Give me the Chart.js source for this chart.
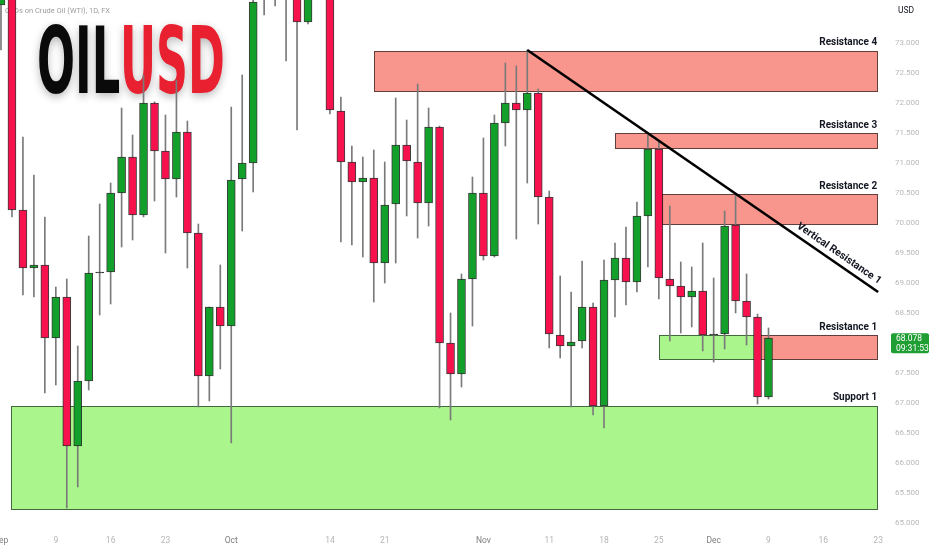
<!DOCTYPE html>
<html><head><meta charset="utf-8">
<script src="https://cdn.jsdelivr.net/npm/chart.js@4"></script>
<style>html,body{margin:0;padding:0;background:#fff;overflow:hidden}canvas{display:block}</style>
</head><body>
<canvas id="c" width="932" height="550"></canvas>
<script>
// ---- Data (daily candles, trading-day index 0 = Sep 2) ----
const opens  = [73.633,74.2,70.217,69.25,69.3,68.083,68.767,66.283,67.367,69.167,69.183,70.5,71.1,70.133,72.0,71.2,70.733,71.517,69.833,67.45,68.6,68.283,70.733,71.0,73.73,74.2,76.0,75.0,73.35,75.8,75.0,71.867,71.017,70.683,70.75,69.333,70.317,71.3,71.017,70.333,71.6,68.0,67.483,69.067,70.5,69.45,71.667,72.0,71.883,72.167,70.433,68.133,67.95,68.033,68.6,66.95,69.05,69.417,69.017,70.117,71.233,69.067,68.95,68.767,68.867,68.133,68.15,69.967,68.7,68.433,67.1];
const highs  = [74.5,74.35,71.433,70.8,70.1,68.933,69.067,67.95,69.783,70.317,70.667,71.917,71.467,72.467,72.02,71.8,72.383,71.7,69.983,68.6,69.3,71.933,72.467,74.0,74.6,75.0,76.5,75.3,76.0,76.2,75.3,72.1,71.283,71.1,71.217,71.017,72.083,71.717,72.317,71.917,71.617,68.5,69.15,70.767,71.417,71.8,72.667,72.617,72.883,72.233,70.533,69.117,68.85,69.367,68.667,69.383,69.667,69.933,70.35,71.467,71.35,70.283,69.35,69.267,69.667,69.083,70.2,70.467,69.15,68.483,68.25];
const lows   = [72.883,70.1,68.8,68.767,67.167,67.3,65.25,65.6,67.217,68.467,68.65,69.6,69.717,70.1,70.367,69.5,70.433,69.25,66.933,67.033,67.567,66.333,69.867,70.517,73.467,73.617,72.7,71.55,73.317,74.8,71.817,69.683,69.633,69.433,68.683,69.0,69.333,70.117,69.75,69.95,66.917,66.717,67.267,68.283,69.383,69.433,71.283,69.733,70.667,69.983,67.917,67.75,66.933,67.917,66.8,66.583,68.433,68.633,68.85,69.267,68.733,68.033,68.167,68.267,67.867,67.683,67.9,68.5,67.967,66.983,67.067];
const closes = [74.3,70.217,69.25,69.3,68.083,68.767,66.283,67.367,69.167,69.183,70.5,71.1,70.133,72.0,71.2,70.733,71.517,69.833,67.45,68.6,68.283,70.717,71.0,73.683,73.75,74.8,74.5,73.35,75.8,75.6,71.883,71.017,70.683,70.75,69.333,70.3,71.3,71.033,70.333,71.6,68.0,67.483,69.067,70.5,69.45,71.667,72.0,71.883,72.167,70.433,68.15,67.95,68.017,68.6,66.95,69.05,69.417,69.017,70.117,71.233,69.083,68.95,68.767,68.867,68.133,68.15,69.95,68.7,68.433,67.1,68.083];

const yTickValues = [65,65.5,66,66.5,67,67.5,68,68.5,69,69.5,70,70.5,71,71.5,72,72.5,73];
const xTickIndex  = [0,5,10,15,21,30,35,44,50,55,60,65,70,75,80];
const xTickLabels = ['Sep','9','16','23','Oct','14','21','Nov','11','18','25','Dec','9','16','23'];
const monthLabels = ['Sep','Oct','Nov','Dec'];

const zoneNames = ['Resistance 4','Resistance 3','Resistance 2','','Resistance 1','Support 1'];
const zoneKinds = ['res','res','res','sup','res','sup'];
const zoneStart = [34,56,60.3,60,69,0.95];
const zoneEnd   = [80,80,80,69,80,80];
const zoneHigh  = [72.867,71.5,70.483,68.133,68.133,66.95];
const zoneLow   = [72.183,71.233,69.967,67.717,67.717,65.217];

const trendX = [48,80];
const trendY = [72.883,68.85];
const trendLabel = 'Vertical Resistance 1';

const titleText = 'CFDs on Crude Oil (WTI), 1D, FX';
const logoDark = 'OIL', logoRed = 'USD';
const currency = 'USD';
const lastPrice = 68.078, lastPriceText = '68.078', lastTimeText = '09:31:53';

// ---- Styles ----
const GREEN = '#12a02a', RED = '#f7124e', DOJI = '#222';
const bodyColors = opens.map((o,i)=> Math.abs(closes[i]-o) < 0.03 ? DOJI : (closes[i] >= o ? GREEN : RED));

function drawFit(ctx, text, color, x0, x1, y0, y1){
  ctx.save();
  ctx.font = 'bold 100px "Liberation Sans Narrow", "DejaVu Sans Condensed", "Roboto Condensed", sans-serif';
  ctx.textBaseline = 'alphabetic'; ctx.textAlign = 'left';
  const m = ctx.measureText(text);
  const w = m.actualBoundingBoxLeft + m.actualBoundingBoxRight;
  const h = m.actualBoundingBoxAscent;
  const sx = (x1-x0)/w, sy = (y1-y0)/h;
  ctx.translate(x0 + m.actualBoundingBoxLeft*sx, y1);
  ctx.scale(sx, sy);
  ctx.shadowColor = 'rgba(0,0,0,0.28)'; ctx.shadowBlur = 9; ctx.shadowOffsetY = 3;
  ctx.fillStyle = color;
  ctx.fillText(text, 0, 0);
  ctx.restore();
}

const overlay = {
  id: 'overlay',
  beforeDatasetsDraw(chart){
    const {ctx, scales:{x, y}} = chart;
    ctx.save();
    ctx.font = '7.5px Roboto, sans-serif'; ctx.fillStyle = '#9c9c9c';
    ctx.textBaseline = 'middle'; ctx.textAlign = 'left';
    ctx.fillText(titleText, 5, 11);
    drawFit(ctx, logoDark, '#0a0a0a', 39, 119, 23, 93);
    drawFit(ctx, logoRed, '#e8202f', 124, 223, 23, 93);
    for (let i=0;i<zoneNames.length;i++){
      const px0 = Math.round(x.getPixelForValue(zoneStart[i]));
      const px1 = Math.round(x.getPixelForValue(zoneEnd[i]));
      const py0 = Math.round(y.getPixelForValue(zoneHigh[i]));
      const py1 = Math.round(y.getPixelForValue(zoneLow[i]));
      ctx.fillStyle = zoneKinds[i]==='res' ? '#f8968d' : '#aaf58c';
      ctx.fillRect(px0, py0, px1-px0, py1-py0);
      ctx.strokeStyle = zoneKinds[i]==='res' ? 'rgba(60,40,40,0.8)' : 'rgba(40,70,40,0.8)';
      ctx.lineWidth = 1;
      ctx.strokeRect(px0+0.5, py0+0.5, px1-px0-1, py1-py0-1);
    }
    ctx.restore();
  },
  afterDatasetsDraw(chart){
    const {ctx, scales:{x, y}} = chart;
    ctx.save();
    ctx.fillStyle = '#131722';
    ctx.font = 'bold 10px Roboto, sans-serif';
    ctx.textAlign = 'right'; ctx.textBaseline = 'middle';
    for (let i=0;i<zoneNames.length;i++){
      if (!zoneNames[i]) continue;
      const px1 = x.getPixelForValue(zoneEnd[i]);
      const py0 = y.getPixelForValue(zoneHigh[i]);
      ctx.fillText(zoneNames[i], px1-1, py0-8);
    }
    // trend label
    const p0x = x.getPixelForValue(trendX[0]), p0y = y.getPixelForValue(trendY[0]);
    const p1x = x.getPixelForValue(trendX[1]), p1y = y.getPixelForValue(trendY[1]);
    const th = Math.atan2(p1y-p0y, p1x-p0x);
    ctx.save();
    ctx.translate(p1x, p1y); ctx.rotate(th);
    ctx.font = 'bold 10.5px Roboto, sans-serif';
    ctx.textAlign = 'right'; ctx.textBaseline = 'bottom';
    ctx.fillText(trendLabel, -4, -4);
    ctx.restore();
    // currency header
    ctx.font = '8.5px Roboto, sans-serif'; ctx.textAlign = 'left'; ctx.textBaseline = 'middle';
    ctx.fillStyle = '#131722';
    ctx.fillText(currency, 898, 11);
    // last price label
    const yy = y.getPixelForValue(lastPrice);
    ctx.fillStyle = '#1e9e33';
    ctx.beginPath();
    if (ctx.roundRect) ctx.roundRect(891, yy-5, 38, 20, 2); else ctx.rect(891, yy-5, 38, 20);
    ctx.fill();
    ctx.fillStyle = '#ffffff';
    ctx.font = '8.5px Roboto, sans-serif';
    ctx.fillText(lastPriceText, 896, yy+1);
    ctx.fillText(lastTimeText, 896, yy+10.5);
    ctx.restore();
  }
};

new Chart(document.getElementById('c'), {
  type: 'bar',
  data: {
    datasets: [
      {
        type: 'line',
        data: trendX.map((v,i)=>({x:v, y:trendY[i]})),
        borderColor: '#000', borderWidth: 2.6, pointRadius: 0, fill: false, order: 0
      },
      {
        data: opens.map((o,i)=>({x:i, y:[o, closes[i]]})),
        backgroundColor: bodyColors,
        borderColor: 'rgba(25,25,25,0.85)', borderWidth: 1, borderSkipped: false,
        barThickness: 8, grouped: false, order: 1
      },
      {
        data: lows.map((l,i)=>({x:i, y:[l, highs[i]]})),
        backgroundColor: '#7a7a7a', borderWidth: 0,
        barThickness: 1, grouped: false, order: 2
      }
    ]
  },
  options: {
    responsive: false, devicePixelRatio: 1, animation: false,
    layout: {padding: 0},
    plugins: {legend: {display: false}, tooltip: {enabled: false}, title: {display: false}},
    scales: {
      x: {
        type: 'linear', min: -0.091, max: 80.9, offset: false,
        grid: {display: false, drawTicks: false}, border: {display: false},
        afterFit(s){ s.height = 20; s.paddingLeft = 0; s.paddingRight = 0; },
        afterBuildTicks(s){ s.ticks = xTickIndex.map(v=>({value:v})); },
        ticks: {
          autoSkip: false, maxRotation: 0, padding: 6,
          font: {size: 8.5, family: 'Roboto'},
          color: c => monthLabels.includes(xTickLabels[xTickIndex.indexOf(c.tick.value)]) ? '#7d7d7d' : '#b5b5b5',
          callback: v => xTickLabels[xTickIndex.indexOf(v)]
        }
      },
      y: {
        position: 'right', min: 64.883, max: 73.717,
        grid: {display: false, drawTicks: false}, border: {display: false},
        afterFit(s){ s.width = 44; s.paddingTop = 0; s.paddingBottom = 0; },
        afterBuildTicks(s){ s.ticks = yTickValues.map(v=>({value:v})); },
        ticks: {padding: 7, font: {size: 8, family: 'Roboto'}, color: '#b8b8b8', callback: v => v.toFixed(3)}
      }
    }
  },
  plugins: [overlay]
});
</script>
</body></html>
